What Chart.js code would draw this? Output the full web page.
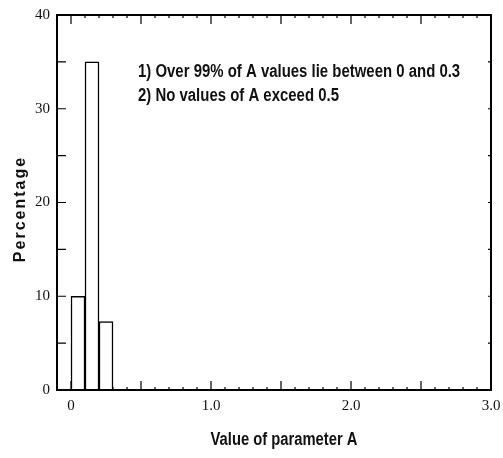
<!DOCTYPE html>
<html>
<head>
<meta charset="utf-8">
<script src="https://cdn.jsdelivr.net/npm/chart.js@4/dist/chart.umd.min.js"></script>
<style>
  html, body { margin: 0; padding: 0; background: #fff; }
  #wrap { width: 503px; height: 458px; }
</style>
</head>
<body>
<div id="wrap"><canvas id="chartParamA" width="503" height="458"></canvas></div>
<script>
// histogram of parameter A (bin centres, bin width 0.1)
const binCentres = [0.05, 0.15, 0.25]
const percentages = [10, 35, 7.3]
const xTicks = [0, 1, 2, 3]
const yTicks = [0, 10, 20, 30, 40]
const notes = [
  '1) Over 99% of A values lie between 0 and 0.3',
  '2) No values of A exceed 0.5'
]
const xTitle = 'Value of parameter A'
const yTitle = 'Percentage'

const points = []
for (var i = 0; i < binCentres.length; i++) {
  points.push({x: binCentres[i], y: percentages[i]})
}

const serif = '"Liberation Serif", "DejaVu Serif", serif'
const sans = '"Liberation Sans", Arial, sans-serif'

// squeezed bold text, the reference uses a narrow face
function narrowText(ctx, text, x, y, size, squeeze, align) {
  ctx.save()
  ctx.font = 'bold ' + size + 'px ' + sans
  ctx.textBaseline = 'alphabetic'
  ctx.textAlign = align
  ctx.translate(x, y)
  ctx.scale(squeeze, 1)
  ctx.fillText(text, 0, 0)
  ctx.restore()
}

// frame, inward tick marks, titles and the two notes
const framePlugin = {
  id: 'frame',
  afterDraw(chart) {
    const ctx = chart.ctx
    const a = chart.chartArea
    const xs = chart.scales.x
    const ys = chart.scales.y
    ctx.save()
    ctx.strokeStyle = '#000'
    ctx.lineWidth = 1.2
    for (var k = 0; k <= 30; k++) {
      const px = xs.getPixelForValue(k / 10)
      const len = k % 5 === 0 ? 9 : 3
      ctx.beginPath()
      ctx.moveTo(px, a.bottom); ctx.lineTo(px, a.bottom - len)
      ctx.moveTo(px, a.top); ctx.lineTo(px, a.top + len)
      ctx.stroke()
    }
    for (var v = 5; v < 40; v += 5) {
      const py = ys.getPixelForValue(v)
      ctx.beginPath()
      ctx.moveTo(a.left, py); ctx.lineTo(a.left + 9, py)
      ctx.moveTo(a.right, py); ctx.lineTo(a.right - 3, py)
      ctx.stroke()
    }
    ctx.lineWidth = 2
    ctx.strokeRect(a.left, a.top, a.right - a.left, a.bottom - a.top)

    ctx.fillStyle = '#111'
    narrowText(ctx, notes[0], 138, 77, 18, 0.83, 'left')
    narrowText(ctx, notes[1], 138, 101, 18, 0.83, 'left')
    narrowText(ctx, xTitle, 284, 445, 18, 0.82, 'center')

    ctx.save()
    ctx.translate(25, 209)
    ctx.rotate(-Math.PI / 2)
    ctx.font = 'bold 16px ' + sans
    ctx.letterSpacing = '2px'
    ctx.textAlign = 'center'
    ctx.textBaseline = 'alphabetic'
    ctx.fillText(yTitle, 0, 0)
    ctx.restore()
    ctx.restore()
  }
}

new Chart(document.getElementById('chartParamA'), {
  type: 'bar',
  data: {
    datasets: [{
      data: points,
      backgroundColor: '#fff',
      borderColor: '#000',
      borderWidth: 1.5,
      barPercentage: 1,
      categoryPercentage: 1
    }]
  },
  options: {
    responsive: false,
    animation: false,
    events: [],
    layout: { padding: { top: 15, right: 12, left: 0, bottom: 0 } },
    plugins: { legend: { display: false }, tooltip: { enabled: false } },
    scales: {
      x: {
        type: 'linear',
        offset: false,
        min: -0.1,
        max: 3.0,
        afterBuildTicks: (scale) => { scale.ticks = xTicks.map(v => ({value: v})) },
        afterFit: (scale) => {
          scale.height = 68
          scale.paddingLeft = 0
          scale.paddingRight = 0
        },
        grid: { display: false, drawTicks: false, offset: false },
        border: { display: false },
        ticks: {
          padding: 7,
          color: '#111',
          font: { family: serif, size: 15 },
          callback: (v) => v === 0 ? '0' : Number(v).toFixed(1)
        }
      },
      y: {
        min: 0,
        max: 40,
        afterBuildTicks: (scale) => { scale.ticks = yTicks.map(v => ({value: v})) },
        afterFit: (scale) => {
          scale.width = 57
          scale.paddingTop = 0
          scale.paddingBottom = 0
        },
        grid: { display: false, drawTicks: false },
        border: { display: false },
        ticks: {
          padding: 7,
          color: '#111',
          font: { family: serif, size: 15 }
        }
      }
    }
  },
  plugins: [framePlugin]
});
</script>
</body>
</html>
